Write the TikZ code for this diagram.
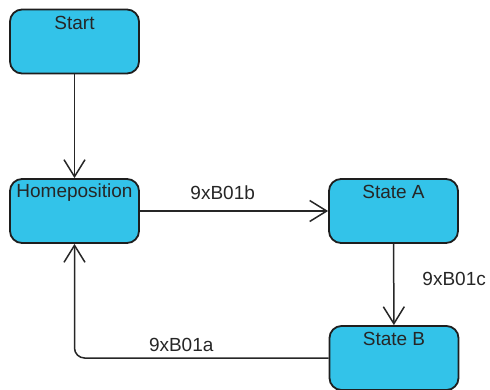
\documentclass[tikz,border=0pt]{standalone}
\usepackage{fontspec}
\setmainfont{Liberation Sans}
\usetikzlibrary{arrows.meta}
\definecolor{statefill}{RGB}{51,195,233}
\definecolor{statedraw}{RGB}{30,30,30}
\newcommand{\statefont}{\fontsize{19}{22}\selectfont}

\begin{document}
\begin{tikzpicture}[x=1pt,y=-1pt,font=\statefont,
  statebox/.style={draw=statedraw,fill=statefill,line width=1.8pt,rounded corners=12pt,
    minimum width=129pt,minimum height=64pt,inner sep=0pt,
    label={[anchor=center,yshift=-14pt,inner sep=0pt,text=black!85]north:#1}},
  trans/.style={draw=black!85,line width=1.5pt,-{Straight Barb[length=17pt,width=21pt,line width=1.5pt]}},
  translabel/.style={inner sep=0pt,text=black!85}]

 \useasboundingbox (0,0) rectangle (490,389);

 \node[statebox=Start] (start) at (74.5,41.5) {};
 \node[statebox=Homeposition] (home) at (74.5,211) {};
 \node[statebox=State A] (stateA) at (393.5,211) {};
 \node[statebox=State B] (stateB) at (394,358) {};

 \draw[trans] (start) -- (home);
 \draw[trans] (home) -- node[translabel,above=11pt,pos=0.44] {9xB01b} (stateA);
 \draw[trans] (stateA) -- node[translabel,right=28pt,pos=0.43] {9xB01c} (stateB);
 \draw[trans,rounded corners=10pt] (stateB.west) -| node[translabel,above=6pt,pos=0.29] {9xB01a} (home.south);

\end{tikzpicture}
\end{document}
